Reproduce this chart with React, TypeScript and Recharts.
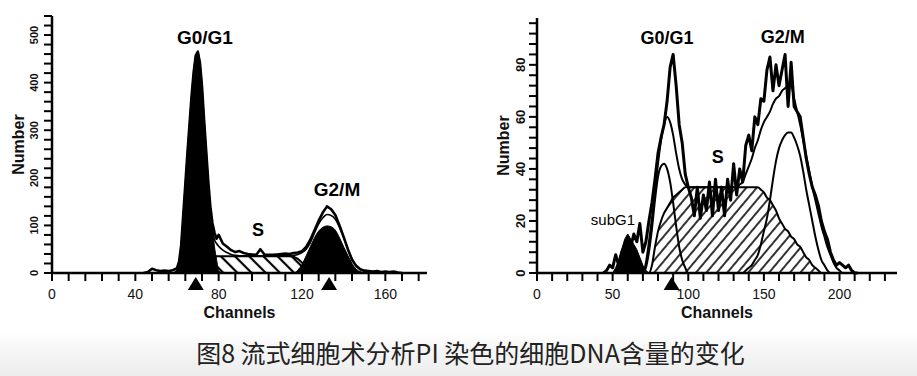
import React from "react";
import { ComposedChart, Area, Line, Scatter, XAxis, YAxis, ReferenceDot } from "recharts";

// left histogram (control)
const leftChannels = [
  44, 46, 48, 50, 52, 54, 56, 58, 60,
  61, 62, 63, 64, 65, 66, 67, 68, 69, 70, 71, 72, 73, 74, 75, 76, 77, 78, 79, 80,
  82, 84, 86, 88, 90, 92, 94, 96, 98, 100, 102, 104, 106, 108, 110, 112, 114, 116, 118, 120,
  122, 124, 126, 128, 130, 132, 134, 136, 138, 140, 142, 144, 146, 148, 150, 152, 154, 156, 158, 160,
  162, 164, 166, 168,
];
const leftTotal = [
  0, 2, 9, 6, 4, 5, 4, 6, 10,
  24, 58, 122, 187, 252, 312, 372, 422, 457, 465, 442, 392, 322, 257, 193, 140, 105, 85, 72, 80,
  62, 55, 48, 44, 46, 42, 40, 39, 38, 50, 39, 38, 38, 39, 40, 41, 40, 42, 43, 46,
  55, 70, 90, 110, 127, 140, 134, 122, 100, 76, 50, 28, 15, 8, 5, 4, 3, 4, 2, 3,
  2, 3, 1, 0,
];
const leftFit = [
  0, 0, 0, 0, 0, 0, 0, 0, 5,
  20, 55, 120, 185, 250, 310, 370, 420, 455, 463, 440, 390, 320, 255, 190, 135, 95, 70, 62, 56,
  48, 43, 39, 37, 36, 36, 36, 36, 36, 36, 36, 36, 36, 36, 36, 36, 36, 37, 39, 43,
  50, 64, 84, 103, 116, 123, 121, 113, 96, 74, 51, 30, 15, 7, 3, 0, 0, 0, 0, 0,
  0, 0, 0, 0,
];
const leftG1 = [
  0, 0, 0, 0, 0, 0, 0, 0, 5,
  20, 55, 120, 185, 250, 310, 370, 420, 455, 463, 440, 390, 320, 255, 190, 135, 92, 55, 28, 5,
  0, 0, 0, 0, 0, 0, 0, 0, 0, 0, 0, 0, 0, 0, 0, 0, 0, 0, 0, 0,
  0, 0, 0, 0, 0, 0, 0, 0, 0, 0, 0, 0, 0, 0, 0, 0, 0, 0, 0, 0,
  0, 0, 0, 0,
];
const leftS = [
  0, 0, 0, 0, 0, 0, 0, 0, 0,
  0, 0, 0, 0, 0, 0, 0, 0, 0, 0, 0, 0, 0, 0, 0, 0, 0, 35, 35, 35,
  35, 35, 35, 35, 35, 35, 35, 35, 35, 35, 35, 35, 35, 35, 35, 35, 35, 34, 30, 22,
  8, 0, 0, 0, 0, 0, 0, 0, 0, 0, 0, 0, 0, 0, 0, 0, 0, 0, 0, 0,
  0, 0, 0, 0,
];
const leftG2 = [
  0, 0, 0, 0, 0, 0, 0, 0, 0,
  0, 0, 0, 0, 0, 0, 0, 0, 0, 0, 0, 0, 0, 0, 0, 0, 0, 0, 0, 0,
  0, 0, 0, 0, 0, 0, 0, 0, 0, 0, 0, 0, 0, 0, 0, 0, 0, 0, 6, 18,
  36, 55, 74, 88, 96, 99, 97, 90, 74, 55, 37, 20, 8, 3, 0, 0, 0, 0, 0, 0,
  0, 0, 0, 0,
];
const leftMarkers = [69, 133];
const leftXTicks = [0, 8, 16, 24, 32, 40, 48, 56, 64, 72, 80, 88, 96, 104, 112, 120, 128, 136, 144, 152, 160, 168, 176];
const leftXLabels = [0, 40, 80, 120, 160];
const leftYTicks = [0, 20, 40, 60, 80, 100, 120, 140, 160, 180, 200, 220, 240, 260, 280, 300, 320, 340, 360, 380, 400, 420, 440, 460, 480, 500, 520, 540];
const leftYLabels = [0, 100, 200, 300, 400, 500];

// right histogram (treated)
const rightChannels = [
  44, 46, 48, 50, 52, 54, 56, 58, 60, 62, 64, 66, 68, 70, 72, 74, 76, 78, 80, 82,
  84, 86, 88, 90, 92, 94, 96, 98, 100, 102, 104, 106, 108, 110, 112, 114, 116, 118, 120, 122,
  124, 126, 128, 130, 132, 134, 136, 138, 140, 142, 144, 146, 148, 150, 152, 154, 156, 158, 160, 162,
  164, 166, 168, 170, 172, 174, 176, 178, 180, 182, 184, 186, 188, 190, 192, 194, 196, 198, 200, 202,
  204, 206, 208, 210, 212,
];
const rightTotal = [
  0, 1, 3, 2, 7, 3, 8, 11, 14, 10, 15, 12, 19, 8, 12, 20, 27, 36, 46, 52,
  57, 66, 79, 84, 72, 57, 50, 38, 33, 29, 22, 33, 21, 30, 24, 35, 22, 36, 24, 33,
  22, 36, 28, 42, 30, 40, 35, 49, 53, 47, 60, 57, 67, 66, 78, 83, 70, 80, 72, 78,
  84, 64, 81, 64, 62, 60, 52, 44, 38, 33, 30, 26, 20, 16, 13, 8, 5, 3, 4, 3,
  2, 3, 1, 0, 0,
];
const rightFit = [
  0, 0, 0, 0, 0, 0, 0, 0, 0, 0, 0, 0, 0, 0, 4, 12, 21, 31, 42, 51,
  57, 60, 58, 53, 46, 40, 36, 34, 33, 33, 33, 33, 33, 33, 33, 33, 33, 33, 33, 33,
  33, 33, 33, 33, 33, 34, 35, 38, 41, 44, 48, 51, 55, 58, 60, 62, 65, 67, 68, 70,
  71, 72, 72, 67, 62, 57, 51, 45, 39, 33, 28, 23, 18, 14, 10, 7, 4, 2, 1, 0,
  0, 0, 0, 0, 0,
];
const rightG1 = [
  0, 0, 0, 0, 0, 0, 0, 0, 0, 0, 0, 0, 0, 0, 2, 8, 17, 28, 37, 41,
  42, 40, 35, 27, 18, 10, 5, 2, 0, 0, 0, 0, 0, 0, 0, 0, 0, 0, 0, 0,
  0, 0, 0, 0, 0, 0, 0, 0, 0, 0, 0, 0, 0, 0, 0, 0, 0, 0, 0, 0,
  0, 0, 0, 0, 0, 0, 0, 0, 0, 0, 0, 0, 0, 0, 0, 0, 0, 0, 0, 0,
  0, 0, 0, 0, 0,
];
const rightS = [
  0, 0, 0, 0, 0, 0, 0, 0, 0, 0, 0, 0, 0, 0, 0, 0, 3, 10, 16, 20,
  23, 25, 27, 29, 30, 31, 32, 33, 33, 33, 33, 33, 33, 33, 33, 33, 33, 33, 33, 33,
  33, 33, 33, 33, 33, 33, 33, 33, 33, 33, 33, 33, 32, 31, 29, 28, 26, 24, 21, 19,
  17, 16, 14, 13, 11, 10, 8, 6, 5, 3, 2, 1, 0, 0, 0, 0, 0, 0, 0, 0,
  0, 0, 0, 0, 0,
];
const rightG2 = [
  0, 0, 0, 0, 0, 0, 0, 0, 0, 0, 0, 0, 0, 0, 0, 0, 0, 0, 0, 0,
  0, 0, 0, 0, 0, 0, 0, 0, 0, 0, 0, 0, 0, 0, 0, 0, 0, 0, 0, 0,
  0, 0, 0, 0, 0, 0, 0, 1, 2, 3, 5, 7, 11, 16, 21, 28, 36, 43, 48, 51,
  53, 54, 54, 52, 49, 45, 39, 32, 26, 20, 14, 9, 5, 3, 1, 0, 0, 0, 0, 0,
  0, 0, 0, 0, 0,
];
const rightSubG1 = [
  0, 0, 0, 0, 2, 5, 9, 13, 15, 13, 11, 9, 6, 3, 1, 0, 0, 0, 0, 0,
  0, 0, 0, 0, 0, 0, 0, 0, 0, 0, 0, 0, 0, 0, 0, 0, 0, 0, 0, 0,
  0, 0, 0, 0, 0, 0, 0, 0, 0, 0, 0, 0, 0, 0, 0, 0, 0, 0, 0, 0,
  0, 0, 0, 0, 0, 0, 0, 0, 0, 0, 0, 0, 0, 0, 0, 0, 0, 0, 0, 0,
  0, 0, 0, 0, 0,
];
const rightMarkers = [89];
const rightXTicks = [0, 10, 20, 30, 40, 50, 60, 70, 80, 90, 100, 110, 120, 130, 140, 150, 160, 170, 180, 190, 200, 210, 220, 230];
const rightXLabels = [0, 50, 100, 150, 200];
const rightYTicks = [0, 4, 8, 12, 16, 20, 24, 28, 32, 36, 40, 44, 48, 52, 56, 60, 64, 68, 72, 76, 80, 84, 88, 92, 96];
const rightYLabels = [0, 20, 40, 60, 80];

const leftData = leftChannels.map((ch, i) => ({
  ch, total: leftTotal[i], fit: leftFit[i], g1: leftG1[i], s: leftS[i], g2: leftG2[i],
}));
const rightData = rightChannels.map((ch, i) => ({
  ch, total: rightTotal[i], fit: rightFit[i], g1: rightG1[i], s: rightS[i], g2: rightG2[i], sub: rightSubG1[i],
}));

const FONT = "'Liberation Sans', Arial, sans-serif";

const makeXTick = (labels: number[]) => (props: any) => {
  const { x, y, payload } = props;
  if (!labels.includes(payload.value)) return <g />;
  return (
    <text x={x} y={y + 10} textAnchor="middle" fontSize={14} fontFamily={FONT} fill="#111">
      {payload.value}
    </text>
  );
};

const makeYTick = (labels: number[], size: number) => (props: any) => {
  const { x, y, payload } = props;
  if (!labels.includes(payload.value)) return <g />;
  return (
    <text
      x={x}
      y={y}
      transform={`rotate(-90, ${x}, ${y})`}
      textAnchor="middle"
      fontSize={size}
      fontWeight="bold"
      fontFamily={FONT}
      fill="#111"
    >
      {payload.value}
    </text>
  );
};

const XTitle = (props: any) => {
  const vb = props.viewBox || {};
  return (
    <text x={vb.x + vb.width / 2} y={vb.y + 45} textAnchor="middle" fontSize={16} fontWeight="bold" fontFamily={FONT} fill="#111">
      Channels
    </text>
  );
};

const YTitle = (props: any) => {
  const vb = props.viewBox || {};
  const x = vb.x + vb.width - 28;
  const y = vb.y + vb.height / 2;
  return (
    <text x={x} y={y} transform={`rotate(-90, ${x}, ${y})`} textAnchor="middle" fontSize={16} fontWeight="bold" fontFamily={FONT} fill="#111">
      Number
    </text>
  );
};

const Marker = (props: any) => {
  const { cx, cy } = props;
  return <polygon points={`${cx},${cy + 4} ${cx - 8},${cy + 17} ${cx + 8},${cy + 17}`} fill="#000" />;
};

const peakLabel = (value: string, size: number, weight = "bold") => ({
  value,
  position: "center" as const,
  fontSize: size,
  fontWeight: weight,
  fontFamily: FONT,
  fill: "#000",
});

const LeftHistogram = () => (
  <ComposedChart width={460} height={330} data={leftData} margin={{ top: 16, right: 33, left: 12, bottom: 0 }}>
    <defs>
      <pattern id="hatchLeft" patternUnits="userSpaceOnUse" width={10} height={10} patternTransform="rotate(-45)">
        <rect width={10} height={10} fill="#fff" />
        <line x1={5} y1={0} x2={5} y2={10} stroke="#000" strokeWidth={2.2} />
      </pattern>
    </defs>
    <XAxis
      dataKey="ch"
      type="number"
      domain={[0, 180]}
      ticks={leftXTicks}
      interval={0}
      height={57}
      tickSize={8}
      tickMargin={8}
      axisLine={{ stroke: "#000", strokeWidth: 2.5 }}
      tickLine={{ stroke: "#000", strokeWidth: 2 }}
      tick={makeXTick(leftXLabels)}
      label={<XTitle />}
    />
    <YAxis
      type="number"
      domain={[0, 540]}
      ticks={leftYTicks}
      interval={0}
      width={40}
      tickSize={8}
      tickMargin={6}
      axisLine={{ stroke: "#000", strokeWidth: 2.5 }}
      tickLine={{ stroke: "#000", strokeWidth: 2 }}
      tick={makeYTick(leftYLabels, 11)}
      label={<YTitle />}
    />
    <Area type="linear" dataKey="s" stroke="#000" strokeWidth={2} fill="url(#hatchLeft)" fillOpacity={1} dot={false} activeDot={false} isAnimationActive={false} />
    <Area type="monotone" dataKey="g1" stroke="#000" strokeWidth={1} fill="#000" fillOpacity={1} dot={false} activeDot={false} isAnimationActive={false} />
    <Area type="monotone" dataKey="g2" stroke="#000" strokeWidth={1} fill="#000" fillOpacity={1} dot={false} activeDot={false} isAnimationActive={false} />
    <Line type="monotone" dataKey="fit" stroke="#000" strokeWidth={1.6} dot={false} activeDot={false} isAnimationActive={false} />
    <Line type="linear" dataKey="total" stroke="#000" strokeWidth={2.6} strokeLinejoin="round" dot={false} activeDot={false} isAnimationActive={false} />
    <Scatter data={leftMarkers.map((ch) => ({ ch, mark: 0 }))} dataKey="mark" shape={<Marker />} isAnimationActive={false} />
    <ReferenceDot x={73.4} y={496} r={0} fill="none" stroke="none" ifOverflow="visible" label={peakLabel("G0/G1", 19)} />
    <ReferenceDot x={136.8} y={176} r={0} fill="none" stroke="none" ifOverflow="visible" label={peakLabel("G2/M", 19)} />
    <ReferenceDot x={98.9} y={92} r={0} fill="none" stroke="none" ifOverflow="visible" label={peakLabel("S", 18)} />
  </ComposedChart>
);

const RightHistogram = () => (
  <ComposedChart width={457} height={330} data={rightData} margin={{ top: 18, right: 20, left: 20, bottom: 0 }}>
    <defs>
      <pattern id="hatchRight" patternUnits="userSpaceOnUse" width={8} height={8} patternTransform="rotate(40)">
        <rect width={8} height={8} fill="#fff" />
        <line x1={4} y1={0} x2={4} y2={8} stroke="#000" strokeWidth={1.6} />
      </pattern>
    </defs>
    <XAxis
      dataKey="ch"
      type="number"
      domain={[0, 238]}
      ticks={rightXTicks}
      interval={0}
      height={57}
      tickSize={8}
      tickMargin={8}
      axisLine={{ stroke: "#000", strokeWidth: 2.5 }}
      tickLine={{ stroke: "#000", strokeWidth: 2 }}
      tick={makeXTick(rightXLabels)}
      label={<XTitle />}
    />
    <YAxis
      type="number"
      domain={[0, 98]}
      ticks={rightYTicks}
      interval={0}
      width={57}
      tickSize={8}
      tickMargin={4}
      axisLine={{ stroke: "#000", strokeWidth: 2.5 }}
      tickLine={{ stroke: "#000", strokeWidth: 2 }}
      tick={makeYTick(rightYLabels, 13)}
      label={<YTitle />}
    />
    <Area type="monotone" dataKey="s" stroke="#000" strokeWidth={2} fill="url(#hatchRight)" fillOpacity={1} dot={false} activeDot={false} isAnimationActive={false} />
    <Area type="linear" dataKey="sub" stroke="#000" strokeWidth={1} fill="#000" fillOpacity={1} dot={false} activeDot={false} isAnimationActive={false} />
    <Line type="monotone" dataKey="g1" stroke="#000" strokeWidth={2} dot={false} activeDot={false} isAnimationActive={false} />
    <Line type="monotone" dataKey="g2" stroke="#000" strokeWidth={2} dot={false} activeDot={false} isAnimationActive={false} />
    <Line type="monotone" dataKey="fit" stroke="#000" strokeWidth={2} dot={false} activeDot={false} isAnimationActive={false} />
    <Line type="linear" dataKey="total" stroke="#000" strokeWidth={3} strokeLinejoin="round" dot={false} activeDot={false} isAnimationActive={false} />
    <Scatter data={rightMarkers.map((ch) => ({ ch, mark: 0 }))} dataKey="mark" shape={<Marker />} isAnimationActive={false} />
    <ReferenceDot x={85.9} y={90.4} r={0} fill="none" stroke="none" ifOverflow="visible" label={peakLabel("G0/G1", 18)} />
    <ReferenceDot x={162.5} y={90.8} r={0} fill="none" stroke="none" ifOverflow="visible" label={peakLabel("G2/M", 18)} />
    <ReferenceDot x={119.5} y={44.6} r={0} fill="none" stroke="none" ifOverflow="visible" label={peakLabel("S", 18)} />
    <ReferenceDot x={50.2} y={20.4} r={0} fill="none" stroke="none" ifOverflow="visible" label={peakLabel("subG1", 15, "normal")} />
  </ComposedChart>
);

export default function App() {
  return (
    <div style={{ position: "absolute", left: 0, top: 0, width: 917, height: 376, background: "#fff", overflow: "hidden" }}>
      <div style={{ position: "absolute", left: 0, top: 0 }}>
        <LeftHistogram />
      </div>
      <div style={{ position: "absolute", left: 460, top: 0 }}>
        <RightHistogram />
      </div>
      <div
        style={{
          position: "absolute",
          left: 0,
          top: 333,
          width: 917,
          height: 43,
          boxSizing: "border-box",
          paddingLeft: 24,
          background: "linear-gradient(to bottom, #ffffff 0%, #f6f6f6 35%, #ededed 100%)",
          textAlign: "center",
          fontFamily: "'Noto Sans CJK SC', sans-serif",
          fontSize: 25,
          lineHeight: "38px",
          color: "#222",
          whiteSpace: "nowrap",
        }}
      >
        图8 流式细胞术分析PI 染色的细胞DNA含量的变化
      </div>
    </div>
  );
}
